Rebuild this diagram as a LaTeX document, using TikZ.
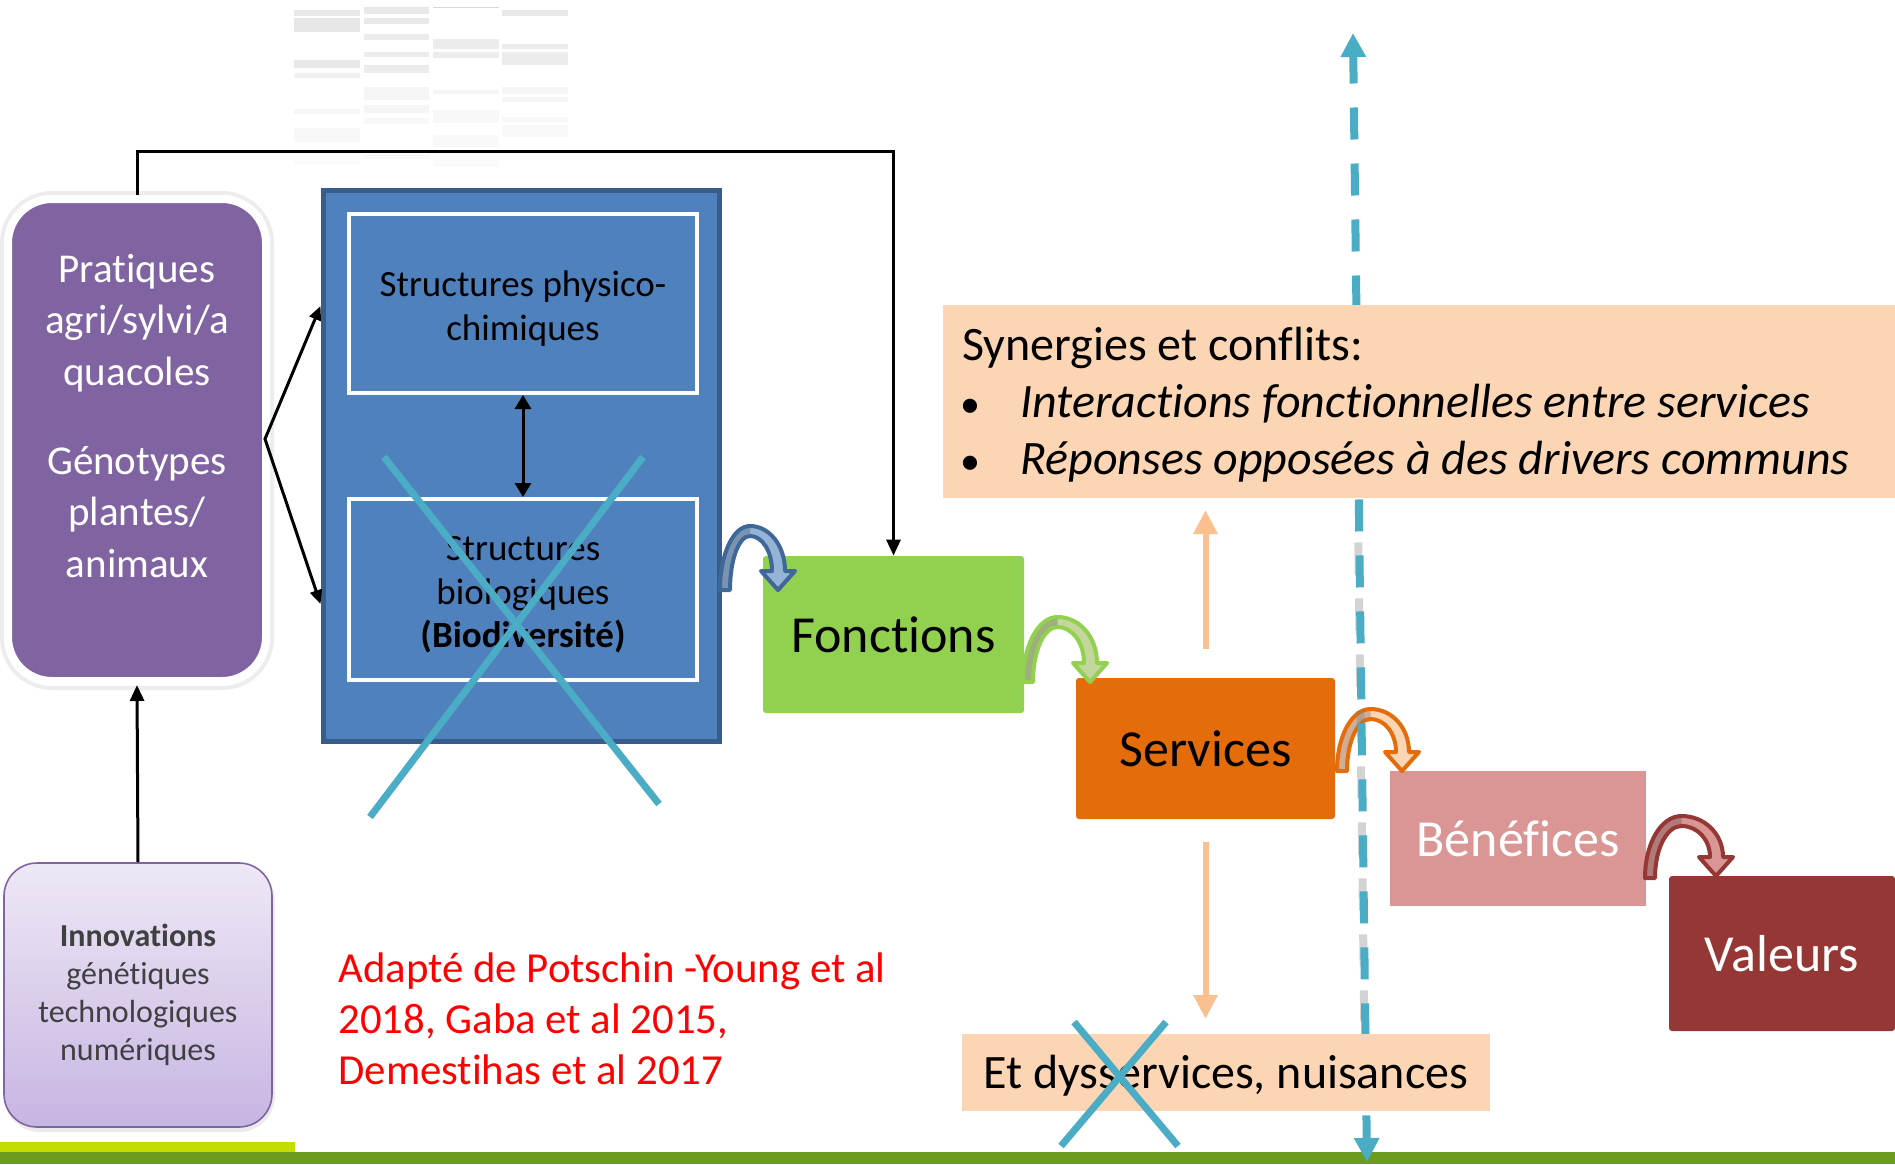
\documentclass[tikz,border=0pt]{standalone}
\usepackage{fontspec}
\setmainfont[Ligatures={CommonOff,ContextualOff,RareOff}]{Carlito}
\usetikzlibrary{arrows.meta,calc}
\definecolor{cPurple}{HTML}{8064A2}
\definecolor{cBlue}{HTML}{4F81BD}
\definecolor{cBlueDk}{HTML}{385D8A}
\definecolor{cCross}{HTML}{4BACC6}
\definecolor{cGreen}{HTML}{92D050}
\definecolor{cOrange}{HTML}{E46C0A}
\definecolor{cBenef}{HTML}{D99694}
\definecolor{cValeur}{HTML}{953735}
\definecolor{cPeach}{HTML}{FCD5B5}
\definecolor{cPeachArr}{HTML}{FAC090}
\definecolor{cInnTop}{HTML}{EEE8F6}
\definecolor{cInnBot}{HTML}{C7B5E2}
\definecolor{cLime}{HTML}{C4DC00}
\definecolor{cDkGreen}{HTML}{6B9B1F}
\definecolor{cTxtGray}{HTML}{404040}
\definecolor{cRed}{HTML}{FF0000}
\definecolor{aBlueO}{HTML}{3F6797}
\definecolor{aBlueD}{HTML}{7B93B3}
\definecolor{aBlueL}{HTML}{95B3D7}
\definecolor{aGreenO}{HTML}{92D050}
\definecolor{aGreenD}{HTML}{9CAF7C}
\definecolor{aGreenL}{HTML}{C3D69B}
\definecolor{aOrO}{HTML}{E46C0A}
\definecolor{aOrD}{HTML}{CFAE96}
\definecolor{aOrL}{HTML}{FCD5B5}
\definecolor{aRedO}{HTML}{953735}
\definecolor{aRedD}{HTML}{B07A78}
\definecolor{aRedL}{HTML}{D99694}
\newcommand{\fsz}[2]{\fontsize{#1}{#2}\selectfont}
% curved arrow: #1 x0 left outer bottom, #2 y0, #3 peak y, #4 tip x, #5 tip y, #6 outline, #7 dark, #8 light
\newcommand{\curvarr}[8]{%
\pgfmathsetmacro\cxa{#1}%
\pgfmathsetmacro\cya{#2}%
\pgfmathsetmacro\cyp{#3}%
\pgfmathsetmacro\cxt{#4}%
\pgfmathsetmacro\cyt{#5}%
\pgfmathsetmacro\cyb{#5-19}%
\pgfmathsetmacro\cxro{#4+7}%
\pgfmathsetmacro\cxri{#4-6}%
\pgfmathsetmacro\cxai{#1+10}%
\pgfmathsetmacro\cxc{(#1+#4)/2+1}%
\pgfmathsetmacro\cypi{#3+10}%
\pgfmathsetmacro\cxhl{#4-17}%
\pgfmathsetmacro\cxhr{#4+17}%
\pgfmathsetmacro\cpa{\cya-0.56*(\cya-\cyp)}%
\pgfmathsetmacro\cpb{\cxc-0.56*(\cxc-\cxa)}%
\pgfmathsetmacro\cpc{\cxc+0.56*(\cxro-\cxc)}%
\pgfmathsetmacro\cpd{\cyb-0.56*(\cyb-\cyp)}%
\pgfmathsetmacro\cpe{\cyb-0.56*(\cyb-\cypi)}%
\pgfmathsetmacro\cpf{\cxc+0.56*(\cxri-\cxc)}%
\pgfmathsetmacro\cpg{\cxc-0.56*(\cxc-\cxai)}%
\pgfmathsetmacro\cph{\cya-0.56*(\cya-\cypi)}%
\def\arrp{(\cxa,\cya) .. controls (\cxa,\cpa) and (\cpb,\cyp) .. (\cxc,\cyp) .. controls (\cpc,\cyp) and (\cxro,\cpd) .. (\cxro,\cyb) -- (\cxhr,\cyb) -- (\cxt,\cyt) -- (\cxhl,\cyb) -- (\cxri,\cyb) .. controls (\cxri,\cpe) and (\cpf,\cypi) .. (\cxc,\cypi) .. controls (\cpg,\cypi) and (\cxai,\cph) .. (\cxai,\cya) -- cycle}%
\fill[#8] \arrp;
\begin{scope}\clip (\cxa-8,\cyp-8) rectangle (\cxc,\cya+8); \fill[#7] \arrp; \end{scope}
\draw[#6, line width=2pt, line join=round] \arrp;
}
\begin{document}
\begin{tikzpicture}[x=0.5pt,y=-0.5pt,
  blk/.style={draw=black, line width=1.5pt},
  blkarr/.style={blk, -{Triangle[width=7pt,length=8pt]}},
  crossline/.style={draw=cCross, line width=3.5pt},
  peacharr/.style={draw=cPeachArr, line width=3pt, -{Triangle[width=11.5pt,length=12pt]}},
  dasharr/.style={draw=cCross, line width=4pt, dash pattern=on 16pt off 12pt, dash phase=2pt,
     {Triangle[width=12pt,length=12pt]}-{Triangle[width=12pt,length=12pt]}},
  bigbox/.style={inner sep=0pt, font=\fsz{26}{30}, text=black},
  ghost/.style={fill=gray, opacity=#1},
]
\useasboundingbox (0,0) rectangle (1895,1164);

% faint ghost table
\foreach \ya/\yb/\o in {10/16/.18,18/32/.2,60/68/.18,73/78/.12,109/114/.08,128/142/.06,161/164/.04}
  \fill[ghost=\o] (294,\ya) rectangle (360,\yb);
\foreach \ya/\yb/\o in {7/14/.18,18/24/.18,34/40/.15,52/57/.15,65/73/.15,87/100/.08,105/113/.08,118/124/.06,155/159/.05}
  \fill[ghost=\o] (364,\ya) rectangle (429,\yb);
\foreach \ya/\yb/\o in {7/8/.3,39/49/.15,52/58/.15,90/94/.08,110/123/.06,135/147/.05,160/167/.04}
  \fill[ghost=\o] (433,\ya) rectangle (499,\yb);
\foreach \ya/\yb/\o in {10/16/.18,44/49/.15,52/65/.15,87/94/.08,97/102/.08,117/122/.06,125/137/.05}
  \fill[ghost=\o] (502,\ya) rectangle (568,\yb);

% bottom bars
\fill[cLime] (0,1142) rectangle (295,1152);
\fill[cDkGreen] (0,1152) rectangle (1895,1164);

% purple box with white frame
\draw[black!7, line width=2pt, rounded corners=25pt] (2,193) rectangle (272,688);
\node[fill=cPurple, draw=white, line width=4pt, rounded corners=22pt, inner sep=0pt,
      minimum width=129pt, minimum height=241pt] (prat) at (137,440) {};
\node[align=center, text=white, font=\fsz{20.5}{25.75}] (pratT) at (137,416)
  {Pratiques\\agri/sylvi/a\\quacoles\\[18.75pt]Génotypes\\plantes/\\animaux};

% innovations box
\draw[black!8, line width=2pt, rounded corners=17pt] (6,867) rectangle (273,1130);
\node[top color=cInnTop, bottom color=cInnBot, draw=cPurple, line width=0.8pt, rounded corners=16.5pt,
      inner sep=0pt, minimum width=134pt, minimum height=132pt, align=center,
      text=cTxtGray, font=\fsz{16}{19}] (innov) at (138,995)
  {\textbf{Innovations}\\génétiques\\technologiques\\numériques};

% big blue box
\node[fill=cBlue, draw=cBlueDk, line width=2.5pt, inner sep=0pt,
      minimum width=198pt, minimum height=275.5pt] (bio) at (521,465.5) {};
\node[fill=cBlue, draw=white, line width=2pt, inner sep=0pt,
      minimum width=174pt, minimum height=89.5pt] (phys) at (523,303.5) {};
\node[align=center, inner sep=0pt, font=\fsz{18.5}{21.75}] (physT) at (523,308.5)
  {Structures physico-\\chimiques};
\node[fill=cBlue, draw=white, line width=2pt, inner sep=0pt,
      minimum width=174pt, minimum height=90.5pt] (biol) at (523,589.5) {};
\node[align=center, inner sep=0pt, font=\fsz{18.5}{21.75}] (biolT) at (523,595)
  {Structures\\biologiques\\\textbf{(Biodiversité)}};
\draw[blk, {Triangle[width=8pt,length=7pt]}-{Triangle[width=8pt,length=7pt]}] (phys.south) -- (biol.north);

% fork arrows
\coordinate (apex) at (265,439);
\coordinate (fu) at (0,306);
\coordinate (fd) at (0,604);
\draw[blk, line join=miter, {Triangle[width=6pt,length=7pt]}-{Triangle[width=6pt,length=7pt]}]
  (bio.west |- fu) -- (apex) -- (bio.west |- fd);

% colored boxes
\node[bigbox, fill=cGreen, rounded corners=1.5pt, minimum width=130.5pt, minimum height=78.5pt] (fonc) at (893.5,634.5) {Fonctions};
\node[bigbox, fill=cOrange, rounded corners=1.5pt, minimum width=129.5pt, minimum height=70.5pt] (serv) at (1205.5,748.5) {Services};
\node[bigbox, fill=cBenef, text=white, minimum width=128pt, minimum height=67.5pt] (bene) at (1518,838.5) {Bénéfices};
\node[bigbox, fill=cValeur, text=white, rounded corners=1.5pt, minimum width=113pt, minimum height=77.5pt] (val) at (1782,953.5) {Valeurs};

% black connectors
\coordinate (topy) at (0,151);
\draw[blkarr, line join=miter] (prat.north) -- (prat.north |- topy) -| (fonc.north);
\draw[blkarr] (innov.north) -- (prat.south);

% cross over the blue box
\draw[crossline] (384,457) -- (659,804);
\draw[crossline] (643,457) -- (370,817);

% curved arrows
\curvarr{720}{590}{526}{778}{590}{aBlueO}{aBlueD}{aBlueL}
\curvarr{1023}{682}{617}{1090}{682}{aGreenO}{aGreenD}{aGreenL}
\curvarr{1337}{771}{709}{1402}{771}{aOrO}{aOrD}{aOrL}
\curvarr{1645}{878}{816}{1716}{876}{aRedO}{aRedD}{aRedL}

% peach arrows
\draw[peacharr] ($(serv.north)+(0,-29)$) -- ($(serv.north |- 0,498)+(0,12)$);
\draw[peacharr] ($(serv.south)+(0,23)$) -- ($(serv.south |- 0,1034)+(0,-15)$);

% dashed blue double arrow
\coordinate (dtop) at (1353,33);
\coordinate (dbot) at (1367,1162);
\draw[gray, opacity=0.35, line width=4pt, dash pattern=on 16pt off 12pt, dash phase=16pt]
  ($(dtop)!0.43!(dbot)+(-1,0)$) -- ($(dtop)!0.88!(dbot)+(-1,0)$);
\draw[dasharr] (dtop) -- (dbot);

% synergies box
\node[fill=cPeach, inner sep=0pt, minimum width=476pt, minimum height=96.5pt] (syn) at (1419,401.5) {};
\node[anchor=west, align=left, inner sep=0pt, font=\fsz{24}{28.5}] (synT) at (962,405)
  {Synergies et conflits:\\
   \hspace*{-1pt}\makebox[30pt][l]{\fsz{20}{20}•}\textit{Interactions fonctionnelles entre services}\\
   \hspace*{-1pt}\makebox[30pt][l]{\fsz{20}{20}•}\textit{Réponses opposées à des drivers communs}};

% dysservices box
\node[fill=cPeach, inner sep=0pt, minimum width=264pt, minimum height=38.5pt] (dys) at (1226,1072.5) {};
\node[anchor=west, inner sep=0pt, font=\fsz{24}{28}] (dysT) at (983,1076) {Et dysservices, nuisances};
\draw[crossline] (1074,1022) -- (1178,1146);
\draw[crossline] (1166,1022) -- (1061,1146);

% references
\node[anchor=west, align=left, inner sep=0pt, text=cRed, font=\fsz{21.4}{25.5}] (refT) at (338,1019)
  {Adapté de Potschin -Young et al\\2018, Gaba et al 2015,\\Demestihas et al 2017};
\end{tikzpicture}
\end{document}
